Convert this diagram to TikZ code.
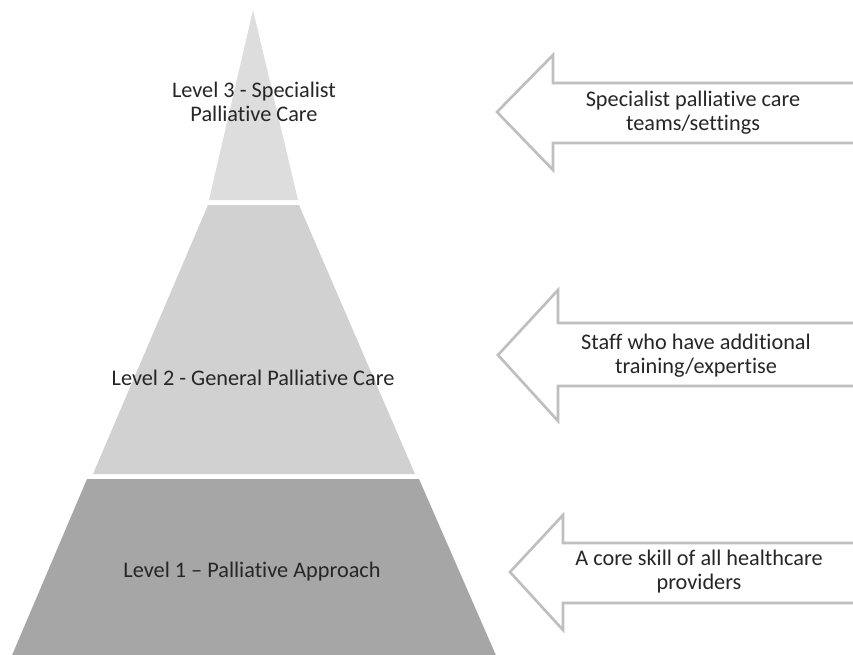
\documentclass[tikz,border=0pt]{standalone}
\usepackage{fontspec}
\setmainfont{Carlito}[Ligatures=NoCommon]
\definecolor{tiertop}{RGB}{221,221,221}
\definecolor{tiermid}{RGB}{209,209,209}
\definecolor{tierbase}{RGB}{166,166,166}
\definecolor{arrowgray}{RGB}{191,191,191}
\definecolor{txtgray}{RGB}{38,38,38}
\usetikzlibrary{positioning}

\begin{document}
\begin{tikzpicture}[x=0.75pt, y=-0.75pt,
  lbl/.style={font=\fontsize{16.7}{18}\selectfont, text=txtgray, align=center},
  outarrow/.style={draw=arrowgray, line width=2pt, fill=white, miter limit=20}]
  \clip (0,0) rectangle (853,654);

  %--- Pyramid tiers ---
  \fill[tiertop] (253,10) -- (298,200) -- (209,200) -- cycle;
  \fill[tiermid] (208,205) -- (299,205) -- (415,474) -- (93,474) -- cycle;
  \fill[tierbase] (87,479) -- (419,479) -- (498,660) -- (10,660) -- cycle;

  \node[lbl] (lvlthree) at (254,102) {Level 3 - Specialist\\Palliative Care};
  \node[lbl] (lvltwo) at (253,378) {Level 2 - General Palliative Care};
  \node[lbl] (lvlone) at (252,572) {Level 1 -- Palliative Approach};

  %--- Arrows pointing at the tiers ---
  % Level 3
  \draw[outarrow] (870,83) -- (553,83) -- (553,55) -- (497,112) -- (553,170) -- (553,143) -- (870,143);
  \node[lbl] (teamthree) at (693,113) {Specialist palliative care\\teams/settings};

  % Level 2
  \draw[outarrow] (870,323) -- (558,323) -- (558,290) -- (498,355) -- (558,421) -- (558,386) -- (870,386);
  \node[lbl] (teamtwo) at (696,356) {Staff who have additional\\training/expertise};

  % Level 1
  \draw[outarrow] (870,543) -- (563,543) -- (563,515) -- (510,572) -- (563,630) -- (563,603) -- (870,603);
  \node[lbl] (teamone) at (699,572) {A core skill of all healthcare\\providers};
\end{tikzpicture}
\end{document}
